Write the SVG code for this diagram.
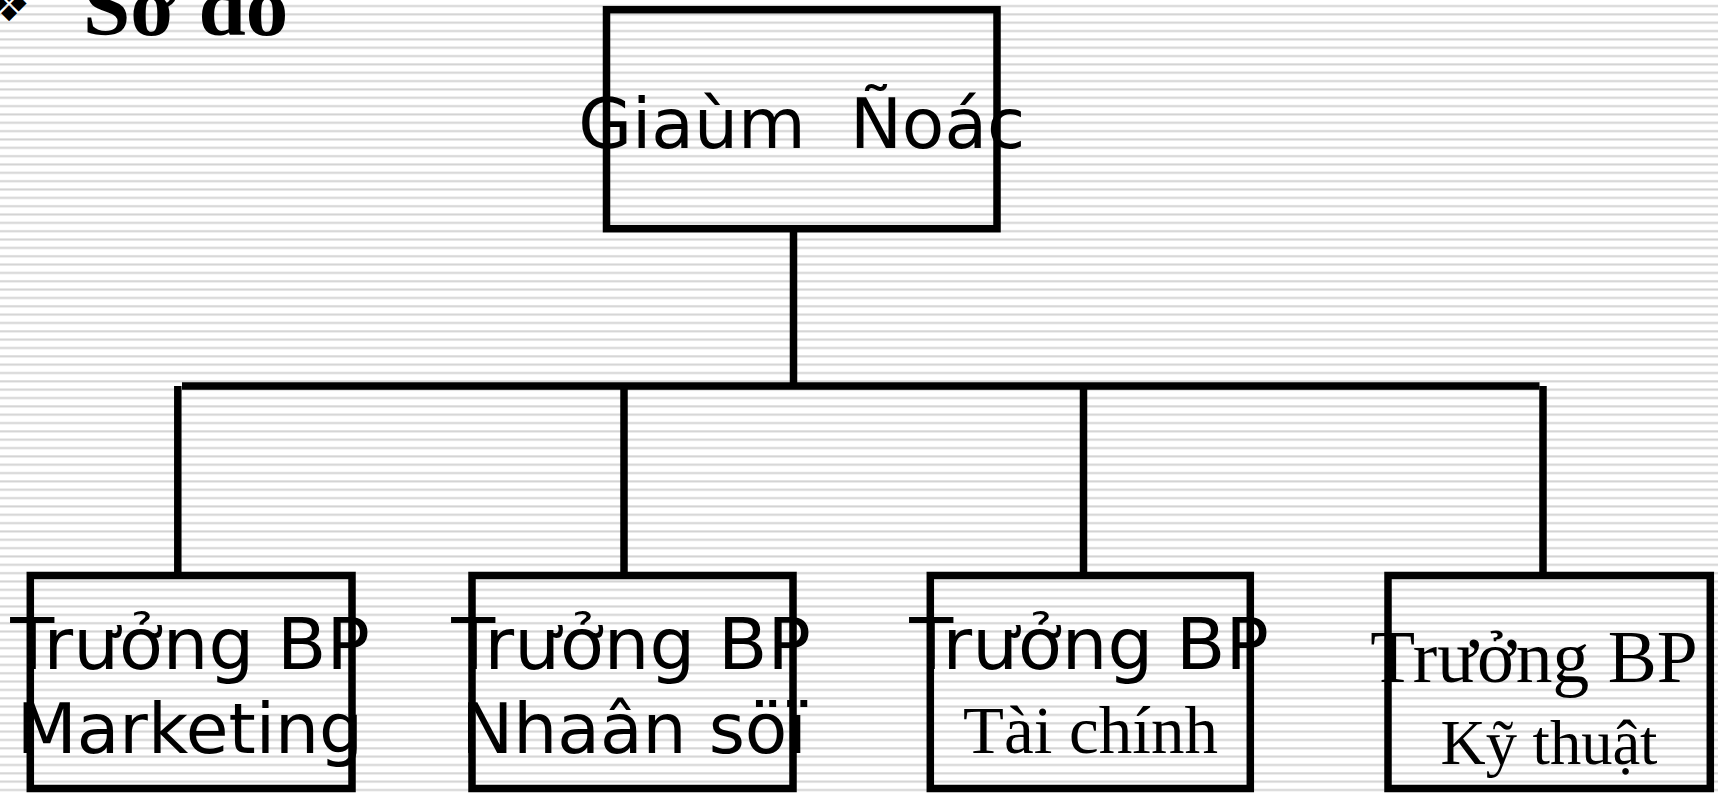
<svg xmlns="http://www.w3.org/2000/svg" width="1718" height="793" viewBox="0 0 1718 793">
  <defs>
    <!-- ruled slide background: thin grey double line every ~8.34px -->
    <pattern id="rules" patternUnits="userSpaceOnUse" x="0" y="4.7" width="20" height="8.34">
      <rect x="0" y="0" width="20" height="1" fill="#e2e2e2"/>
      <rect x="0" y="1" width="20" height="1.3" fill="#cfcfcf"/>
    </pattern>
    <style>
      .box { fill: none; stroke: #000; stroke-width: 7.5; }
      .wire { stroke: #000; stroke-width: 7.5; fill: none; stroke-linecap: butt; }
      .sans { font-family: "DejaVu Sans", sans-serif; fill: #000; text-anchor: middle; }
      .serif { font-family: "Liberation Serif", "Times New Roman", serif; fill: #000; text-anchor: middle; }
    </style>
  </defs>

  <rect x="0" y="0" width="1718" height="793" fill="#ffffff"/>
  <rect x="0" y="0" width="1718" height="793" fill="url(#rules)"/>

  <!-- heading with bullet -->
  <g id="heading">
    <text x="9" y="21" font-family="DejaVu Sans, sans-serif" font-size="48" text-anchor="middle" fill="#000">❖</text>
    <text x="83" y="35" font-family="Liberation Serif, serif" font-weight="bold" font-size="85" fill="#000">Sơ đồ</text>
  </g>

  <!-- connectors -->
  <g id="connectors">
    <line class="wire" x1="793.5" y1="229" x2="793.5" y2="386"/>
    <line class="wire" x1="182" y1="386" x2="1539.5" y2="386"/>
    <line class="wire" x1="177.8" y1="386" x2="177.8" y2="575.5"/>
    <line class="wire" x1="624" y1="386" x2="624" y2="575.5"/>
    <line class="wire" x1="1083.5" y1="386" x2="1083.5" y2="575.5"/>
    <line class="wire" x1="1543" y1="386" x2="1543" y2="575.5"/>
  </g>

  <g id="node-director">
    <rect class="box" x="606.5" y="9.7" width="390.5" height="219"/>
    <text class="sans" x="801.7" y="147.7" font-size="69.5" xml:space="preserve">Giaùm  Ñoác</text>
  </g>

  <g id="node-marketing">
    <rect class="box" x="30.3" y="575.5" width="321.7" height="213"/>
    <text class="sans" x="190" y="669.3" font-size="72">Trưởng BP</text>
    <text class="sans" x="190" y="752.7" font-size="69.5">Marketing</text>
  </g>

  <g id="node-hr">
    <rect class="box" x="472" y="575.5" width="321" height="213"/>
    <text class="sans" x="631" y="669.3" font-size="72">Trưởng BP</text>
    <text class="sans" x="634" y="752.7" font-size="69.5">Nhaân söï</text>
  </g>

  <g id="node-finance">
    <rect class="box" x="930.3" y="575.5" width="320" height="213"/>
    <text class="sans" x="1089" y="669.3" font-size="72">Trưởng BP</text>
    <text class="serif" x="1090.5" y="752.7" font-size="67">Tài chính</text>
  </g>

  <g id="node-technical">
    <rect class="box" x="1388" y="575.5" width="322.3" height="213"/>
    <text class="serif" x="1534" y="681.7" font-size="73.5">Trưởng BP</text>
    <text class="serif" x="1549" y="764" font-size="62.5">Kỹ thuật</text>
  </g>
</svg>
